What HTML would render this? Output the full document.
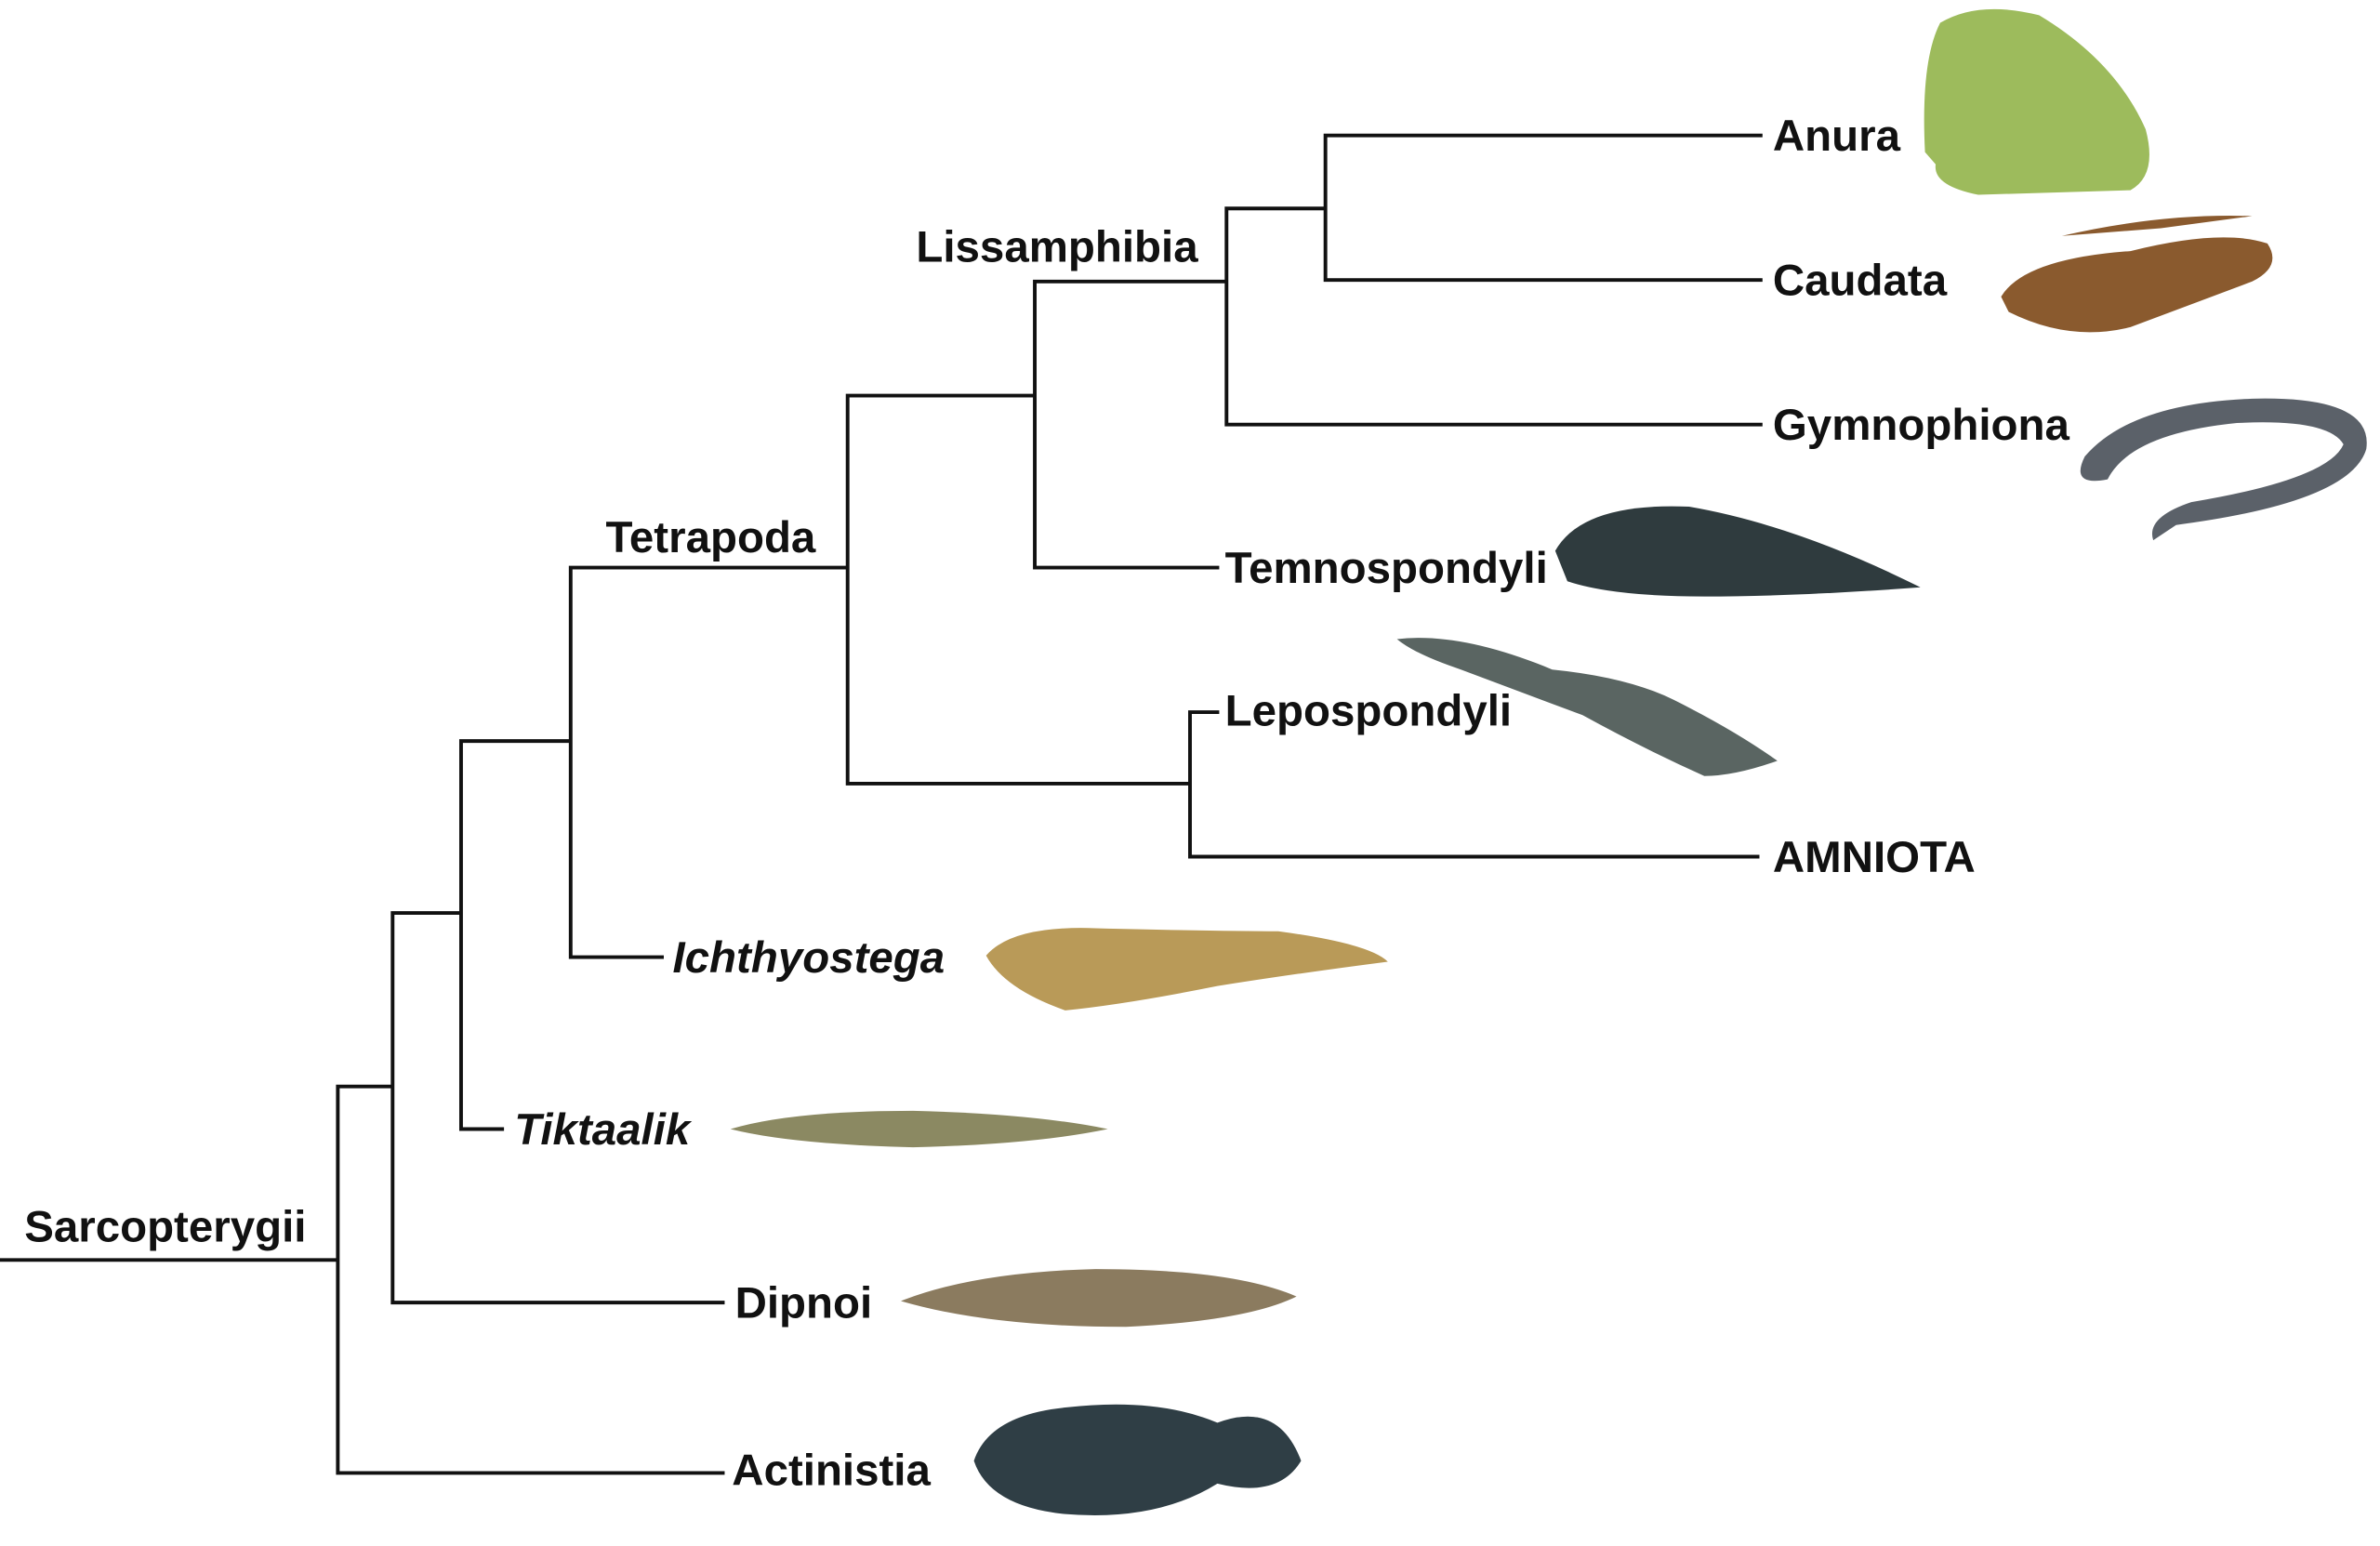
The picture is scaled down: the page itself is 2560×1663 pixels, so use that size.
<!DOCTYPE html>
<html><head><meta charset="utf-8"><style>
html,body{margin:0;padding:0;background:#fff;}
svg{display:block;}
text{font-family:"Liberation Sans",Arial,sans-serif;font-weight:bold;font-size:29px;fill:#111;}
</style></head><body>
<svg width="2560" height="1663" viewBox="0 0 1564 1016" preserveAspectRatio="none" xmlns="http://www.w3.org/2000/svg">
<g stroke="#111" stroke-width="2.4" fill="none" stroke-linecap="square">
<path d="M0 828H222M222 714V968M222 968H475M222 714H258M258 600V856M258 856H475M258 600H303M303 487V742M303 742H330M303 487H375M375 373V629M375 629H435M375 373H557M557 260V515M557 515H782M782 468V563M782 468H800M782 563H1155M557 260H680M680 185V373M680 373H800M680 185H806M806 137V279M806 279H1157M806 137H871M871 89V184M871 89H1157M871 184H1157"/>
</g>
<text x="1165" y="99">Anura</text>
<text x="1165" y="194">Caudata</text>
<text x="1165" y="289">Gymnophiona</text>
<text x="602" y="172">Lissamphibia</text>
<text x="805" y="383">Temnospondyli</text>
<text x="398" y="363">Tetrapoda</text>
<text x="805" y="477">Lepospondyli</text>
<text x="1165" y="573">AMNIOTA</text>
<text x="442" y="639" font-style="italic">Ichthyostega</text>
<text x="338" y="752" font-style="italic">Tiktaalik</text>
<text x="16" y="816">Sarcopterygii</text>
<text x="483" y="866">Dipnoi</text>
<text x="481" y="976">Actinistia</text>
<g>
<path d="M1265 100 Q1262 40 1275 15 Q1300 0 1340 10 Q1390 40 1410 85 Q1418 115 1400 125 L1300 128 Q1270 122 1272 108Z" fill="#9dbb5c"/>
<path d="M1315 195 Q1330 170 1400 165 Q1460 150 1490 160 Q1500 175 1480 185 Q1440 200 1400 215 Q1360 225 1320 205Z M1355 155 Q1420 140 1480 142 L1420 150Z" fill="#8a5a2e"/>
<path d="M1370 300 Q1400 265 1480 262 Q1560 260 1555 295 Q1545 330 1430 345 L1415 355 Q1410 340 1440 330 Q1530 315 1540 292 Q1530 275 1470 278 Q1400 285 1385 315 Q1360 320 1370 300Z" fill="#5b6169"/>
<path d="M1022 362 Q1040 330 1110 333 Q1180 345 1262 386 Q1180 392 1120 392 Q1060 392 1030 382Z" fill="#2f3b3e"/>
<path d="M918 420 Q960 415 1020 440 Q1070 445 1100 460 Q1140 480 1168 500 Q1140 510 1120 510 Q1080 492 1040 470 Q1000 455 960 440 Q930 430 918 420Z" fill="#5a6562"/>
<path d="M648 628 Q665 608 720 610 Q800 612 840 612 Q900 620 912 632 Q850 640 800 648 Q740 660 700 664 Q660 650 648 628Z" fill="#b99a58"/>
<path d="M480 742 Q520 730 600 730 Q680 732 728 742 Q680 752 600 754 Q520 752 480 742Z" fill="#8b8962"/>
<path d="M592 855 Q640 836 720 834 Q810 834 852 852 Q820 868 740 872 Q650 872 592 855Z" fill="#8b7b5f"/>
<path d="M640 960 Q650 930 700 925 Q760 918 800 935 Q840 920 855 960 Q840 985 800 975 Q760 1000 700 995 Q650 990 640 960Z" fill="#2f3e45"/>
</g>
</svg>
</body></html>
